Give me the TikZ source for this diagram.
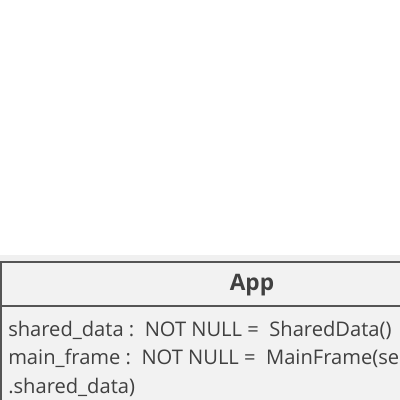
\documentclass[tikz,border=0pt]{standalone}
\usepackage{fontspec}
\setmainfont{Open Sans}
\usetikzlibrary{positioning}
\definecolor{boxfill}{HTML}{F2F2F2}
\definecolor{boxline}{HTML}{555555}
\definecolor{textgray}{HTML}{404040}
\tikzset{attr/.style = {anchor=base west, inner sep=0, text=textgray,
                        font=\fontsize{15.1}{18}\selectfont}}
\tikzset{head/.style = {inner sep=0, text=textgray,
                        font=\fontsize{17}{20}\selectfont\bfseries}}

\begin{document}
\begin{tikzpicture}[x=0.75pt, y=-0.75pt]
      \useasboundingbox (0, 0) rectangle (400, 400);
      \clip (0, 0) rectangle (400, 400);
      \fill [black!6] (0, 255) rectangle (520, 262);
      \draw [boxline, fill=boxfill, line width=1.6pt] (1, 262) rectangle (520, 430);
      \draw [boxline, line width=1.6pt] (1, 306) -- (520, 306);
      \node [head] (title) at (252, 285) {App};
      \node [attr] (shared) at (8, 336) {shared\_data :\ \ NOT NULL =\ \ SharedData()};
      \node [attr] (frame) at (8, 364.5) {main\_frame :\ \ NOT NULL =\ \ MainFrame(self};
      \node [attr] (frametail) at (8, 393) {.shared\_data)};
    \end{tikzpicture}
\end{document}
